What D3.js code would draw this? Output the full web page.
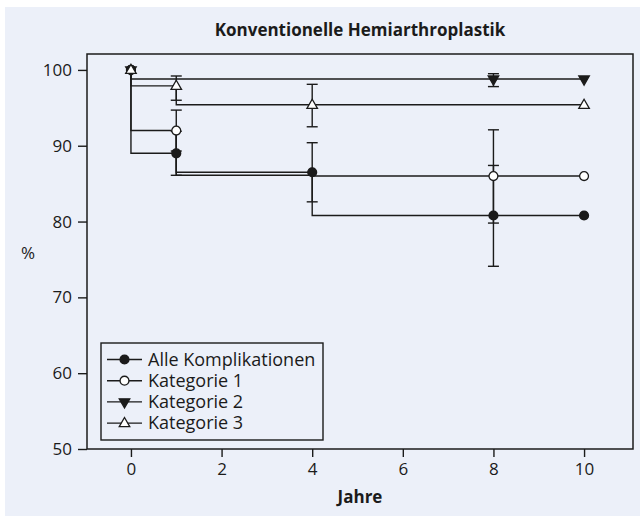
<!DOCTYPE html>
<html>
<head>
<meta charset="utf-8">
<script src="https://cdn.jsdelivr.net/npm/d3@7"></script>
<style>
  body { margin: 0; background: #fff; }
  svg { display: block; font-family: "Open Sans", sans-serif; }
</style>
</head>
<body>
<div id="chart"></div>
<script>
// data
var years = [0, 1, 4, 8, 10];
var xTicks = [0, 2, 4, 6, 8, 10];
var yTicks = [50, 60, 70, 80, 90, 100];
var seriesNames = ["Alle Komplikationen", "Kategorie 1", "Kategorie 2", "Kategorie 3"];

// step values per year, and which years carry a marker
var alleValues = [100, 89, 86.5, 80.8, 80.8];
var alleMarked = [1, 1, 1, 1, 1];
var kat1Values = [100, 92, 86.1, 86.0, 86.0];
var kat1Marked = [1, 1, 0, 1, 1];
var kat2Values = [100, 98.8, 98.8, 98.8, 98.8];
var kat2Marked = [1, 0, 0, 1, 1];
var kat3Values = [100, 97.9, 95.4, 95.4, 95.4];
var kat3Marked = [1, 1, 1, 0, 1];

// error bars: [year, low, high]
var alleErr = [[1, 86.1, 91.9], [4, 82.6, 90.4], [8, 74.1, 87.4]];
var kat1Err = [[1, 89.3, 94.7], [8, 79.8, 92.1]];
var kat2Err = [[8, 97.8, 99.5]];
var kat3Err = [[1, 96.0, 99.2], [4, 92.5, 98.1]];

var W = 640, H = 516;
var plotL = 87, plotR = 633, plotT = 54, plotB = 449;
var ink = "#1b1b1b", bg = "#ecf0f9";

var svg = d3.select("#chart").append("svg")
	.attr("width", W)
	.attr("height", H);

svg.append("rect")
	.attr("x", 5).attr("y", 7)
	.attr("width", W - 5).attr("height", H - 7)
	.attr("fill", bg);

var x = d3.scaleLinear().domain([-0.97, 11.08]).range([plotL, plotR]);
var y = d3.scaleLinear().domain([50, 102.1]).range([plotB, plotT]);

function markerShape(i) {
	if (i == 0 || i == 1) return d3.symbol().type(d3.symbolCircle).size(62)();
	return d3.symbol().type(d3.symbolTriangle).size(48)();
}
function markerFill(i) {
	return (i == 0 || i == 2) ? ink : "#fff";
}
function markerTransform(i, px, py) {
	var t = "translate(" + px + "," + py + ")";
	if (i == 2) t += " rotate(180)";
	if (i == 3) t += " translate(0,0.5)";
	return t;
}

var series = [
	{values: alleValues, marked: alleMarked, err: alleErr},
	{values: kat1Values, marked: kat1Marked, err: kat1Err},
	{values: kat2Values, marked: kat2Marked, err: kat2Err},
	{values: kat3Values, marked: kat3Marked, err: kat3Err}
];

// title
svg.append("text")
	.attr("x", (plotL + plotR) / 2).attr("y", 36)
	.attr("text-anchor", "middle")
	.attr("font-size", 17).attr("font-weight", "bold")
	.attr("fill", ink)
	.text("Konventionelle Hemiarthroplastik");

// axes
var xAxis = svg.append("g")
	.attr("transform", "translate(0," + plotB + ")")
	.call(d3.axisBottom(x).tickValues(xTicks).tickSize(8).tickPadding(6).tickFormat(d3.format("d")));
var yAxis = svg.append("g")
	.attr("transform", "translate(" + plotL + ",0)")
	.call(d3.axisLeft(y).tickValues(yTicks).tickSize(9).tickPadding(6).tickFormat(d3.format("d")));
[xAxis, yAxis].forEach(function(g) {
	g.select(".domain").remove();
	g.selectAll("line").attr("stroke", ink).attr("stroke-width", 1.4);
	g.selectAll("text").attr("font-size", 17).attr("fill", ink)
		.attr("font-family", "Open Sans, sans-serif");
});

svg.append("text")
	.attr("x", (plotL + plotR) / 2).attr("y", 503)
	.attr("text-anchor", "middle")
	.attr("font-size", 17).attr("font-weight", "bold")
	.attr("fill", ink)
	.text("Jahre");

svg.append("text")
	.attr("x", 28).attr("y", 259)
	.attr("text-anchor", "middle")
	.attr("font-size", 17)
	.attr("fill", ink)
	.text("%");

// frame
svg.append("rect")
	.attr("x", plotL).attr("y", plotT)
	.attr("width", plotR - plotL).attr("height", plotB - plotT)
	.attr("fill", "none")
	.attr("stroke", ink).attr("stroke-width", 1.5);

var line = d3.line()
	.x(function(d) { return x(d[0]); })
	.y(function(d) { return y(d[1]); })
	.curve(d3.curveStepBefore);

var plot = svg.append("g");

series.forEach(function(s) {
	var pts = years.map(function(t, j) { return [t, s.values[j]]; });
	plot.append("path")
		.attr("d", line(pts))
		.attr("fill", "none")
		.attr("stroke", ink)
		.attr("stroke-width", 1.4);
});

// error bars
series.forEach(function(s) {
	s.err.forEach(function(e) {
		var px = x(e[0]);
		var g = plot.append("g").attr("stroke", ink).attr("stroke-width", 1.4);
		g.append("line").attr("x1", px).attr("x2", px).attr("y1", y(e[1])).attr("y2", y(e[2]));
		g.append("line").attr("x1", px - 5.5).attr("x2", px + 5.5).attr("y1", y(e[1])).attr("y2", y(e[1]));
		g.append("line").attr("x1", px - 5.5).attr("x2", px + 5.5).attr("y1", y(e[2])).attr("y2", y(e[2]));
	});
});

// markers
series.forEach(function(s, i) {
	years.forEach(function(t, j) {
		if (!s.marked[j]) return;
		plot.append("path")
			.attr("d", markerShape(i))
			.attr("transform", markerTransform(i, x(t), y(s.values[j])))
			.attr("fill", markerFill(i))
			.attr("stroke", ink)
			.attr("stroke-width", 1.3);
	});
});

// legend
var legend = svg.append("g");
legend.append("rect")
	.attr("x", 101).attr("y", 343)
	.attr("width", 222).attr("height", 97)
	.attr("fill", bg)
	.attr("stroke", ink).attr("stroke-width", 1.4);

seriesNames.forEach(function(name, i) {
	var ry = 359.5 + i * 21.2;
	legend.append("line")
		.attr("x1", 107).attr("x2", 142)
		.attr("y1", ry).attr("y2", ry)
		.attr("stroke", ink).attr("stroke-width", 1.4);
	legend.append("path")
		.attr("d", markerShape(i))
		.attr("transform", markerTransform(i, 124.5, ry))
		.attr("fill", markerFill(i))
		.attr("stroke", ink)
		.attr("stroke-width", 1.3);
	legend.append("text")
		.attr("x", 148).attr("y", ry)
		.attr("dy", "0.35em")
		.attr("font-size", 18)
		.attr("fill", ink)
		.text(name);
});
</script>
</body>
</html>
